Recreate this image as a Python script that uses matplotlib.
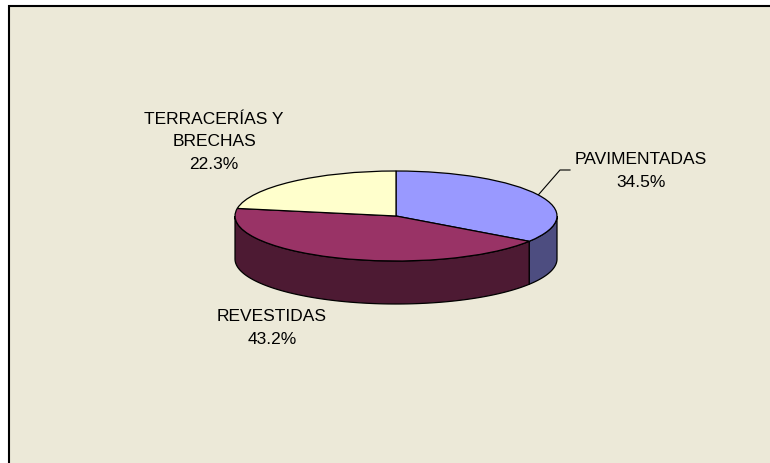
import numpy as np
import matplotlib
matplotlib.use('Agg')
import matplotlib.pyplot as plt
from matplotlib.patches import Polygon, Rectangle
from matplotlib.colors import to_rgb

# datos
categorias = ['PAVIMENTADAS', 'REVESTIDAS', 'TERRACERÍAS Y\nBRECHAS']
porcentajes = [34.5, 43.2, 22.3]
colores = ['#9999FF', '#993366', '#FFFFCC']

plt.rcParams['font.family'] = ['Liberation Sans', 'DejaVu Sans']

W, H = 770, 464
fig = plt.figure(figsize=(W / 100, H / 100), dpi=100)

# fondo en coordenadas de pixel
bg = fig.add_axes([0, 0, 1, 1])
bg.set_xlim(0, W)
bg.set_ylim(H, 0)
bg.axis('off')
bg.add_patch(Rectangle((8.5, 7), 900, 600, facecolor='#ECE9D8',
                       edgecolor='black', linewidth=1.5, clip_on=True))

# geometria del pastel (pixeles)
cx, cy = 396, 217
a, b = 161, 45
prof = 43
ylo, yhi = -2.2, 1.2
ax = fig.add_axes([(cx - a) / W, (H - cy + ylo * b) / H,
                   2 * a / W, (yhi - ylo) * b / H])

ax.pie(porcentajes, colors=colores, startangle=90, counterclock=False,
       wedgeprops=dict(edgecolor='black', linewidth=0.9, zorder=2))
ax.set_aspect('auto')
ax.set_xlim(-1, 1)
ax.set_ylim(ylo, yhi)
ax.axis('off')

# paredes laterales
d = prof / b
bordes = 90 - np.concatenate([[0], np.cumsum(porcentajes)]) / 100 * 360
for i in range(len(porcentajes)):
    t2, t1 = bordes[i], bordes[i + 1]  # t1 < t2
    # parte frontal visible: angulos entre -180 y 0
    for off in (0, -360, 360):
        lo = max(t1 + off, -180)
        hi = min(t2 + off, 0)
        if hi > lo:
            t = np.radians(np.linspace(lo, hi, 100))
            xs = np.cos(t)
            ys = np.sin(t)
            pts = np.vstack([np.column_stack([xs, ys]),
                             np.column_stack([xs[::-1], ys[::-1] - d])])
            c = tuple(v * 0.5 for v in to_rgb(colores[i]))
            ax.add_patch(Polygon(pts, closed=True, facecolor=c,
                                 edgecolor='black', linewidth=0.9,
                                 zorder=1, clip_on=False))

# etiquetas
fs = 12.5
ls = 1.6
etq = [f'{c}\n{p:.1f}%' for c, p in zip(categorias, porcentajes)]
bg.text(641, 171, etq[0], ha='center', va='center', fontsize=fs, linespacing=ls)
bg.text(272, 328, etq[1], ha='center', va='center', fontsize=fs, linespacing=ls)
bg.text(214, 142, etq[2], ha='center', va='center', fontsize=fs, linespacing=ls)

# linea guia de PAVIMENTADAS
m = np.radians((bordes[0] + bordes[1]) / 2)
ex, ey = cx + a * np.cos(m), cy - b * np.sin(m)
bg.plot([570, 560, ex], [171, 171, ey], color='black', linewidth=0.8)

fig.savefig('out.png', dpi=100)
